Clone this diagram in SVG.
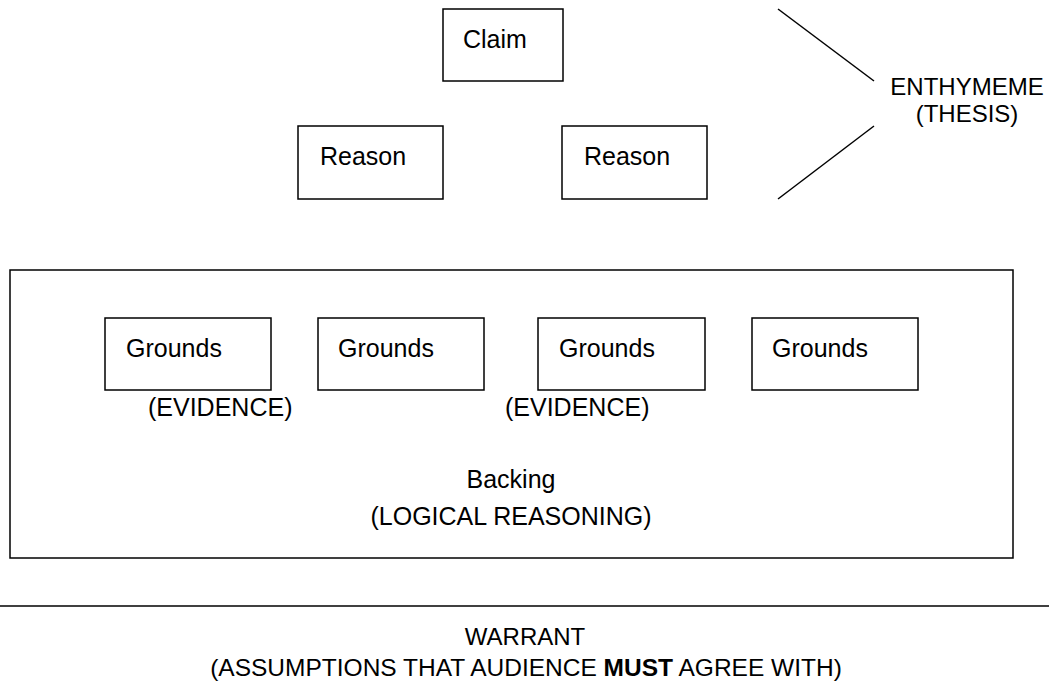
<svg xmlns="http://www.w3.org/2000/svg" width="1049" height="698" viewBox="0 0 1049 698">
<style>
.box{fill:#fff;stroke:#000;stroke-width:1.5}
.t{font-family:"Liberation Sans",Arial,sans-serif;font-size:25px;fill:#000}
.c{text-anchor:middle}
.ln{stroke:#000;stroke-width:1.5;fill:none}
</style>
<rect width="1049" height="698" fill="#fff"/>
<g id="backing">
<rect class="box" x="10" y="270" width="1003" height="288"/>
<text class="t c" x="511" y="488">Backing</text>
<text class="t c" x="511" y="525">(LOGICAL REASONING)</text>
</g>
<g id="claim"><rect class="box" x="443" y="9" width="120" height="72"/><text class="t" x="463" y="48">Claim</text></g>
<g id="reason1"><rect class="box" x="298" y="126" width="145" height="73"/><text class="t" x="320" y="165">Reason</text></g>
<g id="reason2"><rect class="box" x="562" y="126" width="145" height="73"/><text class="t" x="584" y="165">Reason</text></g>
<g id="grounds1"><rect class="box" x="105" y="318" width="166" height="72"/><text class="t" x="126" y="357">Grounds</text></g>
<g id="grounds2"><rect class="box" x="318" y="318" width="166" height="72"/><text class="t" x="338" y="357">Grounds</text></g>
<g id="grounds3"><rect class="box" x="538" y="318" width="167" height="72"/><text class="t" x="559" y="357">Grounds</text></g>
<g id="grounds4"><rect class="box" x="752" y="318" width="166" height="72"/><text class="t" x="772" y="357">Grounds</text></g>
<g id="evidence-labels">
<text class="t" x="148" y="416">(EVIDENCE)</text>
<text class="t" x="505" y="416">(EVIDENCE)</text>
</g>
<g id="enthymeme">
<text class="t c" x="967" y="95" style="font-size:24px">ENTHYMEME</text>
<text class="t c" x="967" y="122" style="font-size:24px">(THESIS)</text>
</g>
<g id="connectors">
<line class="ln" x1="778" y1="9" x2="874" y2="81"/>
<line class="ln" x1="874" y1="126" x2="778" y2="199"/>
</g>
<g id="warrant">
<line class="ln" x1="0" y1="606" x2="1049" y2="606"/>
<text class="t c" x="525" y="645" style="font-size:24px">WARRANT</text>
<text class="t c" x="526" y="676" style="font-size:24.5px">(ASSUMPTIONS THAT AUDIENCE <tspan font-weight="bold">MUST</tspan> AGREE WITH)</text>
</g>
</svg>
